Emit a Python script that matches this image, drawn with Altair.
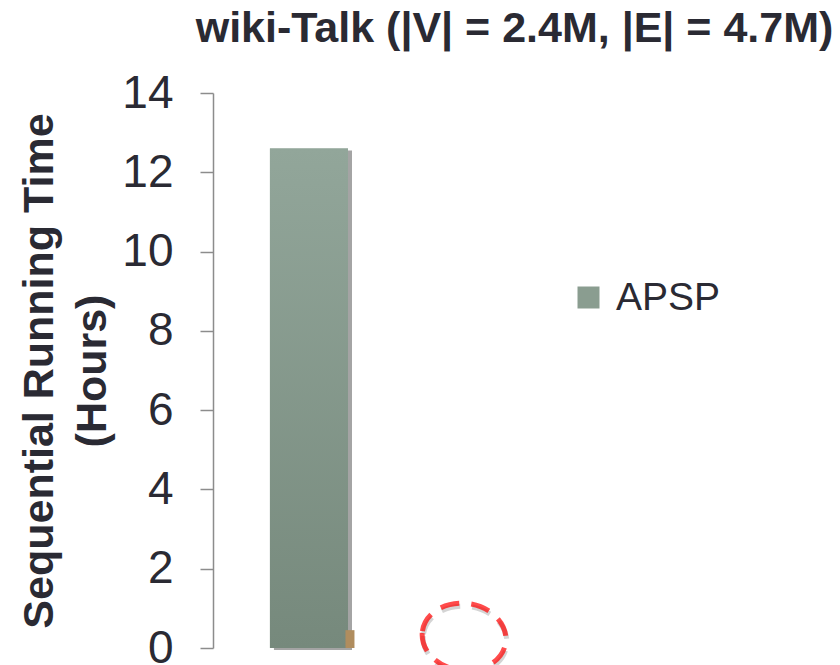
import altair as alt
import pandas as pd

# Sequential running time on wiki-Talk, in hours
slots = ["wiki-Talk", "highlight"]
series = ["APSP"]
apsp_hours = [12.6]
fast_hours = [0.45]
highlight_hours = [0.28]

FONT = "Liberation Sans"
INK = "#2a2a33"

apsp = pd.DataFrame({"slot": [slots[0]], "series": series, "hours": apsp_hours})
fast = pd.DataFrame({"slot": [slots[0]], "hours": fast_hours})
mark_df = pd.DataFrame({"slot": [slots[1]], "hours": highlight_hours})

x_enc = alt.X("slot:N", axis=None,
              scale=alt.Scale(domain=slots, paddingInner=0.49, paddingOuter=0.372))
y_scale = alt.Scale(domain=[0, 14], nice=False)
y_axis = alt.Axis(
    values=[0, 2, 4, 6, 8, 10, 12, 14], grid=False,
    domainColor="#8c8c8c", domainWidth=1.5, tickColor="#8c8c8c", tickWidth=1.5,
    tickSize=13, labelFontSize=46, labelColor=INK, labelFont=FONT, labelPadding=27,
    title=["Sequential Running Time", "(Hours)"], titleFont=FONT, titleFontSize=43,
    titleFontWeight="bold", titleColor=INK, titlePadding=7, titleLineHeight=53,
)

# soft drop shadow behind the main bar
shadow = alt.Chart(apsp).mark_bar(color="#5a5a5a", opacity=0.55, xOffset=4, yOffset=2).encode(
    x=x_enc, y=alt.Y("hours:Q", scale=y_scale, axis=y_axis)
)

# legend carrier (flat fill) and the gradient-filled bar on top
apsp_flat = alt.Chart(apsp).mark_bar().encode(
    x=x_enc, y=alt.Y("hours:Q", scale=y_scale),
    color=alt.Color("series:N", scale=alt.Scale(domain=series, range=["#8a9d90"]),
                    legend=alt.Legend(title=None, orient="none", legendX=356, legendY=185,
                                      symbolType="square", symbolSize=484, symbolStrokeWidth=0,
                                      labelFontSize=39, labelFont=FONT, labelColor=INK,
                                      labelOffset=8, padding=0)),
)
apsp_bar = alt.Chart(apsp).mark_bar(
    color=alt.LinearGradient(gradient="linear", x1=0, x2=0, y1=0, y2=1,
                             stops=[alt.GradientStop(color="#92a69a", offset=0),
                                    alt.GradientStop(color="#76897c", offset=1)])
).encode(x=x_enc, y=alt.Y("hours:Q", scale=y_scale))

fast_bar = alt.Chart(fast).mark_bar(color="#b08d5e", width=9, xOffset=41).encode(
    x=x_enc, y=alt.Y("hours:Q", scale=y_scale)
)

ellipse_path = "M -1 0 A 1 0.8 0 1 1 1 0 A 1 0.8 0 1 1 -1 0 Z"
ring_shadow = alt.Chart(mark_df).mark_point(
    shape=ellipse_path, size=7056, filled=False, stroke="#777777", strokeOpacity=0.45,
    strokeWidth=5, strokeDash=[19, 12], angle=8, xOffset=3, yOffset=3
).encode(x=x_enc, y=alt.Y("hours:Q", scale=y_scale))
ring = alt.Chart(mark_df).mark_point(
    shape=ellipse_path, size=7056, filled=False, stroke="#ff0000", strokeOpacity=1,
    strokeWidth=5, strokeDash=[19, 12], angle=8, xOffset=2
).encode(x=x_enc, y=alt.Y("hours:Q", scale=y_scale))

chart = alt.layer(shadow, apsp_flat, apsp_bar, fast_bar, ring_shadow, ring).properties(
    width=345, height=555,
    title=alt.TitleParams("wiki-Talk (|V| = 2.4M, |E| = 4.7M)", font=FONT, fontSize=43,
                          fontWeight="bold", color=INK, anchor="middle", dx=129, offset=19),
    autosize=alt.AutoSizeParams(type="none"),
    padding={"left": 213, "top": 93, "right": 282, "bottom": 17},
    background="white",
).configure_view(stroke=None)

chart.save("out.html", embed_options={"renderer": "svg", "actions": False})
